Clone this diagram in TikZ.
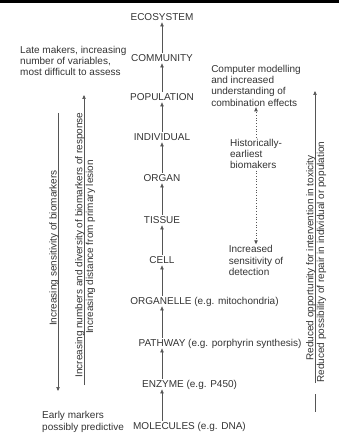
\documentclass[tikz,border=0pt]{standalone}
\usepackage{fontspec}
\setmainfont{Liberation Sans}
\usetikzlibrary{arrows.meta}
\definecolor{txt}{HTML}{333333}
\definecolor{ln}{HTML}{555555}
\begin{document}
\begin{tikzpicture}[x=1pt,y=-1pt,
  every node/.style={text=txt, font=\fontsize{10}{11.3}\selectfont},
  lvl/.style={inner sep=1.6pt, text height=7.2pt, text depth=0pt},
  note/.style={align=left, inner sep=1pt},
  side/.style={rotate=90, inner sep=0.6pt},
  tip/.style={-{Triangle[length=4pt,width=3.4pt]}},
  up/.style={draw=ln, line width=0.6pt, tip},
  vline/.style={draw=ln, line width=0.6pt},
  dots/.style={draw=ln, line width=0.7pt, dotted, tip}
]
\useasboundingbox (0,0) rectangle (339,435);
\fill[black] (0,0) rectangle (339,3.2);

% central hierarchy
\node[lvl] (eco)  at (162,17)  {ECOSYSTEM};
\node[lvl] (com)  at (162,58)  {COMMUNITY};
\node[lvl] (pop)  at (162,97)  {POPULATION};
\node[lvl] (ind)  at (162,137) {INDIVIDUAL};
\node[lvl] (org)  at (162,178) {ORGAN};
\node[lvl] (tis)  at (162,220) {TISSUE};
\node[lvl] (cel)  at (162,260) {CELL};
\node[lvl] (orl)  at (161,301) {ORGANELLE\rlap{ (e.g. mitochondria)}};
\node[lvl] (pat)  at (162,343) {PATHWAY\rlap{ (e.g. porphyrin synthesis)}};
\node[lvl] (enz)  at (163,384) {ENZYME\rlap{ (e.g. P450)}};
\node[lvl] (mol)  at (164,426) {MOLECULES\rlap{ (e.g. DNA)}};

\draw[up] (com.north) -- (eco.south);
\draw[up] (pop.north) -- (com.south);
\draw[up] (ind.north) -- (pop.south);
\draw[up] (org.north) -- (ind.south);
\draw[up] (tis.north) -- (org.south);
\draw[up] (cel.north) -- (tis.south);
\draw[up] (orl.north -| cel) -- (cel.south);
\draw[up] (pat.north -| cel) -- (orl.south -| cel);
\draw[up] (enz.north -| cel) -- (pat.south -| cel);
\draw[up] (mol.north -| cel) -- (enz.south -| cel);

% left notes
\node[note, anchor=west] (late) at (19,61)
  {Late makers, increasing\\number of variables,\\most difficult to assess};
\node[note, anchor=west] (early) at (41,422)
  {Early markers\\possibly predictive};

% left vertical arrows
\coordinate (s1t) at (58,113);
\coordinate (s1b) at (58,391);
\draw[up] (s1t) -- (s1b);
\node[side, anchor=base] (sens) at (56.6,248) {Increasing sensitivity of biomarkers};

\coordinate (s2b) at (84,385);
\coordinate (s2t) at (84,95);
\draw[up] (s2b) -- (s2t);
\node[side, anchor=base] (numb) at (82.4,245)
  {Increasing numbers and diversity of biomarkers of response};
\node[side, anchor=north] (dist) at (85,247) {Increasing distance from primary lesion};

% right notes with dotted arrows
\node[note] (comp) at (256,85.5)
  {Computer modelling\\and increased\\understanding of\\combination effects};
\node[note, fill=white, inner sep=1.5pt] (hist) at (256,154)
  {Historically-\\earliest\\biomakers};
\node[note] (incr) at (256,260.5)
  {Increased\\sensitivity of\\detection};
\draw[dots] (hist.north) -- (comp.south);
\draw[dots] (hist.south) -- (incr.north);

% right vertical arrow
\coordinate (r1b) at (315,383);
\coordinate (r1t) at (315,91);
\coordinate (r2t) at (315,394);
\coordinate (r2b) at (315,412);
\draw[up] (r1b) -- (r1t);
\draw[vline] (r2t) -- (r2b);
\node[side, anchor=base] (redo) at (313.4,258)
  {Reduced opportunity for intervention in toxicity};
\node[side, anchor=north] (redp) at (316,262)
  {Reduced possibility of repair in individual or population};
\end{tikzpicture}
\end{document}
